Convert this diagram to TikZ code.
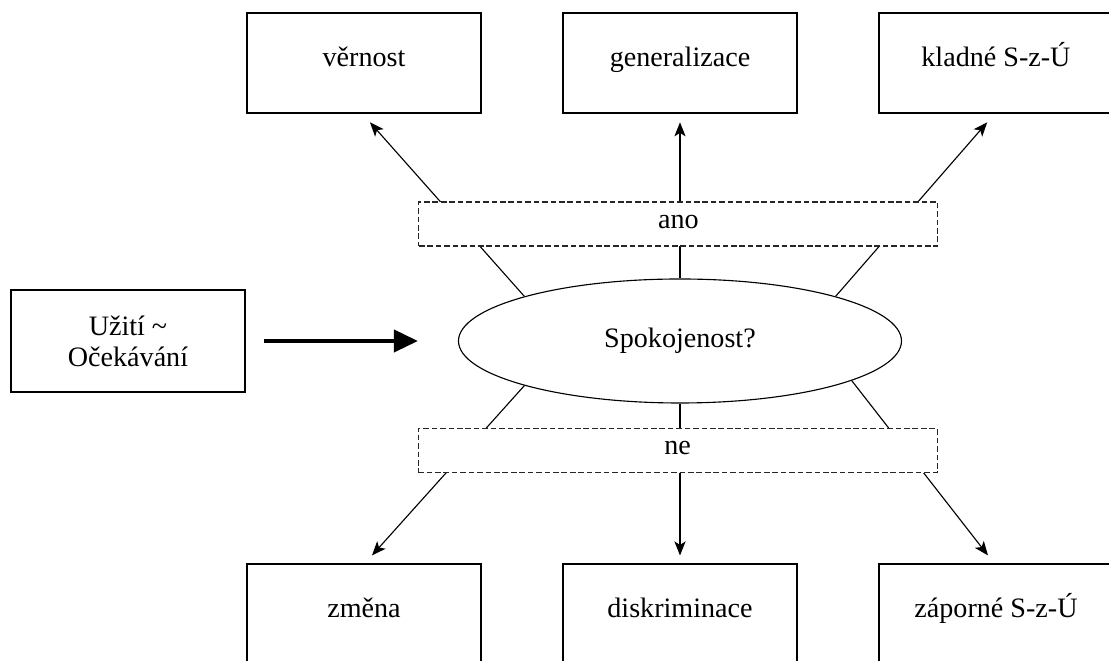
\documentclass[tikz,border=0pt]{standalone}
\usepackage{fontspec}
\setmainfont{Liberation Serif}
\usetikzlibrary{arrows.meta,calc,shapes.geometric,positioning}

\begin{document}
\begin{tikzpicture}[thick, every node/.style={font=\fontsize{20}{22}\selectfont}]
    \tikzset{BoxStyle/.style = {draw,
        minimum width  = 5.85cm,
        minimum height = 2.5cm,
        text height    = 1.5ex,
        text depth     = 0.45ex,
        inner sep      = 0pt},
      AnswerStyle/.style = {draw = gray!30!black,
        dash pattern   = on 4pt off 2pt,
        fill           = white,
        text height    = 1.5ex,
        text depth     = 0.2ex,
        minimum width  = 12.975cm,
        minimum height = 1.1cm},
      EdgeStyle/.style = {-{Stealth[length=10pt,width=8pt,inset=2.5pt]}}}
    \clip (-17,-8) rectangle (10.725,8.525);

    \node[draw,minimum width=5.85cm,minimum height=2.55cm,align=center] (In) at (-13.8,0) {Užití \textasciitilde\\Očekávání};
    \node[ellipse,draw,minimum width=11.075cm,minimum height=3.1cm,inner sep=0pt] (Q) at (0,0) {Spokojenost?};
    \draw[line width=2.8pt,-{Triangle[length=0.6cm,width=0.55cm]},shorten <=0.45cm,shorten >=1cm] (In) -- (Q);

    \node[BoxStyle] (A1) at (-7.9,6.95) {věrnost};
    \node[BoxStyle] (B1) at (0,6.95) {generalizace};
    \node[BoxStyle] (C1) at (7.9,6.95) {kladné S-z-Ú};

    \node[BoxStyle] (A2) at (-7.9,-6.825) {změna};
    \node[BoxStyle] (B2) at (0,-6.825) {diskriminace};
    \node[BoxStyle] (C2) at (7.9,-6.825) {záporné S-z-Ú};

    \draw[EdgeStyle] (Q.164) -- ($(A1.south) + (0.15,-0.22)$);
    \draw[EdgeStyle] (Q.north) -- ($(B1.south) + (0,-0.22)$);
    \draw[EdgeStyle] (Q.16) -- ($(C1.south) + (-0.22,-0.22)$);
    \draw[EdgeStyle] (Q.196) -- ($(A2.north) + (0.2,0.2)$);
    \draw[EdgeStyle] (Q.south) -- ($(B2.north) + (0,0.2)$);
    \draw[EdgeStyle] (Q.-13) -- ($(C2.north) + (-0.2,0.2)$);

    % dashed answer boxes lie over the connectors
    \node[AnswerStyle] (Yes) at (-0.04,2.925) {ano};
    \node[AnswerStyle] (No) at (-0.06,-2.74) {ne};
\end{tikzpicture}
\end{document}
